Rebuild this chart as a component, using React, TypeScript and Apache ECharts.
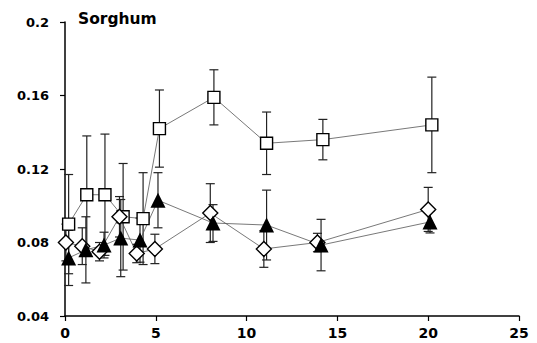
import React, { useEffect, useRef } from "react";
import * as echarts from "echarts";

const xTicks = [0, 5, 10, 15, 20, 25];
const yTicks = [0.04, 0.08, 0.12, 0.16, 0.2];

const squareX = [0.2, 1.2, 2.2, 3.2, 4.3, 5.2, 8.2, 11.1, 14.2, 20.2];
const squareY = [0.090, 0.106, 0.106, 0.094, 0.093, 0.142, 0.159, 0.134, 0.136, 0.144];
const squareErr = [0.027, 0.032, 0.033, 0.029, 0.025, 0.021, 0.015, 0.017, 0.011, 0.026];

const diamondX = [0.05, 0.95, 1.9, 3.0, 3.95, 4.95, 8.0, 10.95, 13.9, 20.0];
const diamondY = [0.080, 0.078, 0.075, 0.094, 0.074, 0.0765, 0.096, 0.0765, 0.080, 0.098];
const diamondErr = [0.010, 0.010, 0.005, 0.011, 0.005, 0.008, 0.016, 0.010, 0.005, 0.012];

const triangleX = [0.2, 1.15, 2.15, 3.07, 4.13, 5.12, 8.15, 11.1, 14.1, 20.1];
const triangleY = [0.0716, 0.076, 0.0786, 0.0824, 0.0813, 0.103, 0.0906, 0.0895, 0.0786, 0.0912];
const triangleErr = [0.015, 0.018, 0.007, 0.021, 0.012, 0.015, 0.010, 0.019, 0.014, 0.006];

const FONT = "'DejaVu Sans', Arial, sans-serif";

function pts(xs: number[], ys: number[]) {
  return xs.map((x, i) => [x, ys[i]]);
}
function errs(xs: number[], ys: number[], es: number[]) {
  return xs.map((x, i) => [x, ys[i] - es[i], ys[i] + es[i]]);
}

function errorSeries(data: number[][]) {
  return {
    type: "custom",
    data,
    z: 1,
    silent: true,
    renderItem: (params: any, api: any) => {
      const x = api.value(0);
      const lo = api.coord([x, api.value(1)]);
      const hi = api.coord([x, api.value(2)]);
      const w = 4.5;
      const style = { stroke: "#222", lineWidth: 1.2 };
      return {
        type: "group",
        children: [
          { type: "line", shape: { x1: lo[0], y1: lo[1], x2: hi[0], y2: hi[1] }, style },
          { type: "line", shape: { x1: lo[0] - w, y1: lo[1], x2: lo[0] + w, y2: lo[1] }, style },
          { type: "line", shape: { x1: hi[0] - w, y1: hi[1], x2: hi[0] + w, y2: hi[1] }, style },
        ],
      };
    },
  };
}

function lineSeries(data: number[][], symbol: string, size: number, filled: boolean) {
  return {
    type: "line",
    data,
    z: 3,
    symbol,
    symbolSize: size,
    showAllSymbol: true,
    lineStyle: { color: "#555", width: 0.8 },
    itemStyle: {
      color: filled ? "#000" : "#fff",
      borderColor: "#000",
      borderWidth: filled ? 0 : 1.4,
    },
  };
}

export default function App() {
  const ref = useRef<HTMLDivElement>(null);
  useEffect(() => {
    const chart = echarts.init(ref.current!, undefined, { renderer: "svg" });
    chart.setOption({
      animation: false,
      backgroundColor: "#fff",
      title: {
        text: "Sorghum",
        left: 73,
        top: 6,
        textStyle: { fontFamily: FONT, fontWeight: "bold", fontSize: 15.5, color: "#000" },
      },
      grid: { left: 65, right: 18, top: 22, bottom: 27 },
      xAxis: {
        type: "value",
        min: 0,
        max: 25,
        interval: 5,
        axisLine: { lineStyle: { color: "#000", width: 1.5 } },
        axisTick: { show: true, length: 5, lineStyle: { color: "#000", width: 1.2 } },
        splitLine: { show: false },
        axisLabel: {
          fontFamily: FONT,
          fontWeight: "bold",
          fontSize: 14,
          color: "#000",
          margin: 10,
          formatter: (v: number) => (xTicks.includes(v) ? String(v) : ""),
        },
      },
      yAxis: {
        type: "value",
        min: 0.04,
        max: 0.2,
        interval: 0.04,
        axisLine: { show: true, lineStyle: { color: "#000", width: 1.5 } },
        axisTick: { show: true, length: 5, lineStyle: { color: "#000", width: 1.2 } },
        splitLine: { show: false },
        axisLabel: {
          fontFamily: FONT,
          fontWeight: "bold",
          fontSize: 13,
          color: "#000",
          margin: 16,
          formatter: (v: number) => {
            const t = yTicks.find((y) => Math.abs(y - v) < 1e-6);
            return t === undefined ? "" : String(+t.toFixed(2));
          },
        },
      },
      series: [
        errorSeries(errs(squareX, squareY, squareErr)),
        errorSeries(errs(diamondX, diamondY, diamondErr)),
        errorSeries(errs(triangleX, triangleY, triangleErr)),
        lineSeries(pts(squareX, squareY), "rect", 12, false),
        lineSeries(pts(diamondX, diamondY), "diamond", 15, false),
        lineSeries(pts(triangleX, triangleY), "triangle", 15, true),
      ],
    });
    return () => chart.dispose();
  }, []);
  return <div ref={ref} style={{ width: 537, height: 343, position: "absolute", left: 0, top: 0 }} />;
}
